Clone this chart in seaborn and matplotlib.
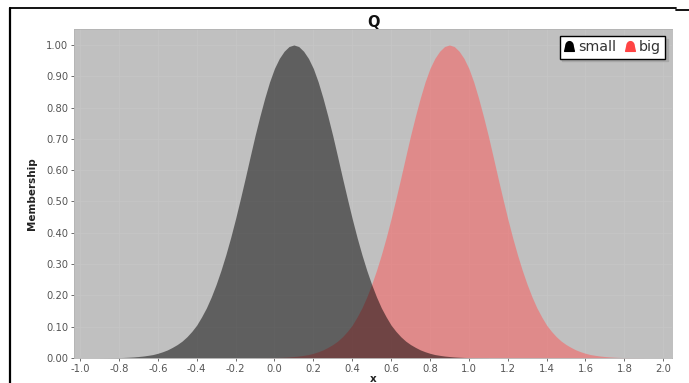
import numpy as np
import pandas as pd
import matplotlib
matplotlib.use("Agg")
import matplotlib.pyplot as plt
import seaborn as sns
from matplotlib.path import Path
from matplotlib.lines import Line2D

x_small = [round(-0.9 + 0.025 * i, 3) for i in range(81)]
y_small = [0.0003, 0.0005, 0.0007, 0.0010, 0.0013, 0.0018, 0.0025, 0.0034, 0.0047, 0.0063,
           0.0085, 0.011, 0.015, 0.020, 0.026, 0.034, 0.043, 0.054, 0.068, 0.085,
           0.105, 0.131, 0.160, 0.195, 0.235, 0.280, 0.330, 0.385, 0.445, 0.509,
           0.575, 0.643, 0.710, 0.772, 0.830, 0.882, 0.925, 0.957, 0.980, 0.995,
           1.000,
           0.995, 0.980, 0.957, 0.925, 0.882, 0.830, 0.772, 0.710, 0.643, 0.575,
           0.509, 0.445, 0.385, 0.330, 0.280, 0.235, 0.195, 0.160, 0.131, 0.105,
           0.085, 0.068, 0.054, 0.043, 0.034, 0.026, 0.020, 0.015, 0.011, 0.0085,
           0.0063, 0.0047, 0.0034, 0.0025, 0.0018, 0.0013, 0.0010, 0.0007, 0.0005, 0.0003]
x_big = [round(-0.1 + 0.025 * i, 3) for i in range(81)]
y_big = [0.0003, 0.0005, 0.0007, 0.0010, 0.0013, 0.0018, 0.0025, 0.0034, 0.0047, 0.0063,
         0.0085, 0.011, 0.015, 0.020, 0.026, 0.034, 0.043, 0.054, 0.068, 0.085,
         0.105, 0.131, 0.160, 0.195, 0.235, 0.280, 0.330, 0.385, 0.445, 0.509,
         0.575, 0.643, 0.710, 0.772, 0.830, 0.882, 0.925, 0.957, 0.980, 0.995,
         1.000,
         0.995, 0.980, 0.957, 0.925, 0.882, 0.830, 0.772, 0.710, 0.643, 0.575,
         0.509, 0.445, 0.385, 0.330, 0.280, 0.235, 0.195, 0.160, 0.131, 0.105,
         0.085, 0.068, 0.054, 0.043, 0.034, 0.026, 0.020, 0.015, 0.011, 0.0085,
         0.0063, 0.0047, 0.0034, 0.0025, 0.0018, 0.0013, 0.0010, 0.0007, 0.0005, 0.0003]
x_ticks = [-1.0, -0.8, -0.6, -0.4, -0.2, 0.0, 0.2, 0.4, 0.6, 0.8, 1.0, 1.2, 1.4, 1.6, 1.8, 2.0]
y_ticks = [0.0, 0.1, 0.2, 0.3, 0.4, 0.5, 0.6, 0.7, 0.8, 0.9, 1.0]

df_small = pd.DataFrame({"x": x_small, "y": y_small, "term": "small"})
df_big = pd.DataFrame({"x": x_big, "y": y_big, "term": "big"})

sns.set_theme(style="white")
plt.rcParams["font.family"] = ["DejaVu Sans"]

fig = plt.figure(figsize=(6.89, 3.83), dpi=100)
fig.patch.set_facecolor("white")
ax = fig.add_axes([74 / 689, 1 - 358 / 383, (672 - 74) / 689, (358 - 29) / 383])
ax.set_facecolor("#c0c0c0")

BIG = "#ff5555"
SMALL = "#000000"

# big first, small on top
sns.lineplot(data=df_big, x="x", y="y", ax=ax, color=BIG, linewidth=0, legend=False)
ax.fill_between(df_big["x"], df_big["y"], 0, color=BIG, alpha=0.5, linewidth=0)
sns.lineplot(data=df_small, x="x", y="y", ax=ax, color=SMALL, linewidth=0, legend=False)
ax.fill_between(df_small["x"], df_small["y"], 0, color=SMALL, alpha=0.5, linewidth=0)

ax.set_xlim(-1.031, 2.045)
ax.set_ylim(0, 1.051)
ax.set_xticks(x_ticks)
ax.set_xticklabels([f"{v:.1f}" for v in x_ticks])
ax.set_yticks(y_ticks)
ax.set_yticklabels([f"{v:.2f}" for v in y_ticks])
ax.tick_params(axis="both", labelsize=7.2, colors="#555555", length=2, width=0.6,
               direction="out", pad=2)
ax.xaxis.set_tick_params(bottom=True)
ax.yaxis.set_tick_params(left=True)
ax.grid(True, color="#c6c6c6", linewidth=0.5)
ax.set_axisbelow(True)
for s in ax.spines.values():
    s.set_visible(True)
    s.set_color("#b4b4b4")
    s.set_linewidth(0.6)

ax.set_title("Q", fontweight="bold", fontsize=10.5, pad=1.5, color="#111111")
ax.set_ylabel("Membership", fontweight="bold", fontsize=7.5, color="#222222", labelpad=7)
ax.set_xlabel("x", fontweight="bold", fontsize=7.5, color="#222222", labelpad=0)

# bell-shaped legend icon
t = np.linspace(np.pi, 0, 20)
verts = [(-1.0, -1.0)] + [(0.75 * np.cos(a), 0.1 + 0.9 * np.sin(a)) for a in t] + [(1.0, -1.0), (-1.0, -1.0)]
codes = [Path.MOVETO] + [Path.LINETO] * (len(verts) - 2) + [Path.CLOSEPOLY]
bell = Path(verts, codes)
handles = [
    Line2D([], [], linestyle="none", marker=bell, markersize=7, color=SMALL, label="small"),
    Line2D([], [], linestyle="none", marker=bell, markersize=7, color="#ff4444", label="big"),
]
leg = ax.legend(handles=handles, loc="upper right", ncol=2, fontsize=10.2,
                frameon=True, fancybox=False, edgecolor="black", framealpha=1,
                handlelength=0.7, handletextpad=0.3, columnspacing=0.6,
                borderpad=0.3, borderaxespad=0, bbox_to_anchor=(665 / 689, 1 - 36 / 383),
                bbox_transform=fig.transFigure,
                shadow={"color": "#a8a8a8", "alpha": 1})
leg.get_frame().set_linewidth(1.0)
for txt in leg.get_texts():
    txt.set_color("#333333")

# outer frame fragments
fig.add_artist(Line2D([10 / 689, 676 / 689], [1 - 8 / 383] * 2, color="black", lw=1.3,
                      transform=fig.transFigure))
fig.add_artist(Line2D([676 / 689, 1.0], [1 - 10 / 383] * 2, color="black", lw=1.3,
                      transform=fig.transFigure))
fig.add_artist(Line2D([10 / 689] * 2, [0, 1 - 8 / 383], color="black", lw=1.6,
                      transform=fig.transFigure))

fig.savefig("out.png", dpi=100)
